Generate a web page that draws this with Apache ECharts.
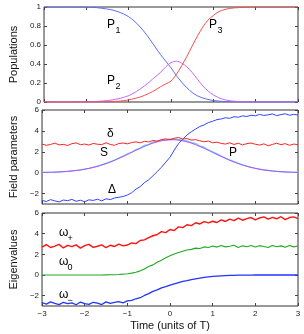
<!DOCTYPE html>
<html><head><meta charset="utf-8">
<script src="https://cdn.jsdelivr.net/npm/echarts@6/dist/echarts.min.js"></script>
<style>html,body{margin:0;padding:0;background:#fff}#c{width:304px;height:334px}</style>
</head><body><div id="c"></div>
<script>
// ---- data ----
const tCoarse = [-3,-2.75,-2.5,-2.25,-2,-1.75,-1.5,-1.375,-1.25,-1.125,-1,-0.875,-0.75,-0.625,-0.5,-0.375,-0.25,-0.125,0,0.125,0.25,0.375,0.5,0.625,0.75,0.875,1,1.125,1.25,1.375,1.5,1.75,2,2.25,2.5,2.75,3];
const P1 = [1,1,1,1,0.998,0.993,0.978,0.967,0.95,0.928,0.897,0.855,0.80,0.735,0.66,0.58,0.50,0.43,0.36,0.28,0.21,0.15,0.10,0.065,0.042,0.027,0.016,0.01,0.005,0.003,0.002,0.001,0,0,0,0,0];
const P2 = [0,0,0,0,0.002,0.006,0.015,0.023,0.034,0.048,0.067,0.095,0.13,0.17,0.215,0.265,0.31,0.37,0.415,0.43,0.41,0.37,0.31,0.24,0.17,0.115,0.075,0.045,0.026,0.014,0.008,0.002,0,0,0,0,0];
const P3 = [0,0,0,0,0,0.001,0.003,0.005,0.008,0.014,0.023,0.035,0.05,0.07,0.095,0.125,0.16,0.19,0.22,0.29,0.38,0.48,0.59,0.695,0.788,0.863,0.91,0.95,0.971,0.984,0.991,0.997,1,1,1,1,1];

const tFine = [-3,-2.9,-2.8,-2.7,-2.6,-2.5,-2.4,-2.3,-2.2,-2.1,-2,-1.9,-1.8,-1.7,-1.6,-1.5,-1.4,-1.3,-1.2,-1.1,-1,-0.9,-0.8,-0.7,-0.6,-0.5,-0.4,-0.3,-0.2,-0.1,0,0.1,0.2,0.3,0.4,0.5,0.6,0.7,0.8,0.9,1,1.1,1.2,1.3,1.4,1.5,1.6,1.7,1.8,1.9,2,2.1,2.2,2.3,2.4,2.5,2.6,2.7,2.8,2.9,3];
const delta = [2.74,2.62,2.70,2.83,2.66,2.71,2.60,2.78,2.85,2.68, 2.74,2.64,2.80,2.72,2.69,2.86,2.70,2.62,2.79,2.84, 2.76,2.88,2.95,2.86,3.00,2.94,3.08,3.02,3.16,3.24, 3.15,3.30,3.36,3.22,3.26,3.12,3.16,3.05,2.96,3.02, 2.86,2.92,2.80,2.74,2.86,2.70,2.82,2.66,2.78,2.84, 2.72,2.64,2.76,2.58,2.70,2.82,2.68,2.78,2.62,2.74,2.68];
const Delta = [-2.66,-2.76,-2.58,-2.70,-2.80,-2.62,-2.68,-2.56,-2.74,-2.64, -2.78,-2.60,-2.66,-2.54,-2.70,-2.50,-2.58,-2.42,-2.36,-2.28, -2.14,-1.92,-1.58,-1.34,-0.96,-0.68,-0.30,0.10,0.52,1.00, 1.48,2.16,2.78,3.20,3.62,3.92,4.18,4.42,4.58,4.80, 4.92,5.08,5.14,5.26,5.20,5.36,5.30,5.44,5.38,5.50, 5.44,5.58,5.48,5.54,5.62,5.46,5.56,5.64,5.50,5.58,5.52];
const Sfield = [0.02,0.03,0.04,0.05,0.07,0.095,0.125,0.16,0.21,0.26,0.33,0.41,0.50,0.61,0.73,0.87,1.02,1.18,1.36,1.55,1.74,1.94,2.14,2.33,2.51,2.68,2.83,2.95,3.05,3.11,3.15,3.15,3.11,3.05,2.95,2.83,2.68,2.51,2.33,2.14,1.94,1.74,1.55,1.36,1.18,1.02,0.87,0.73,0.61,0.50,0.41,0.33,0.26,0.21,0.16,0.125,0.095,0.07,0.05,0.04,0.03];
const Pfield = [0.02,0.03,0.04,0.05,0.07,0.10,0.12,0.17,0.21,0.27, 0.34,0.42,0.52,0.62,0.76,0.89,1.05,1.20,1.40,1.58, 1.81,1.96,2.22,2.36,2.62,2.70,2.94,3.00,3.16,3.12, 3.24,3.18,3.20,3.08,3.05,2.88,2.80,2.54,2.44,2.18, 2.00,1.80,1.60,1.41,1.23,1.06,0.90,0.76,0.63,0.52, 0.42,0.34,0.27,0.22,0.17,0.13,0.10,0.07,0.05,0.04,0.03];
const wPlus = [2.70,2.94,2.66,2.80,2.96,2.62,2.86,2.74,2.92,2.60, 2.84,2.96,2.68,2.78,2.92,2.64,2.88,2.76,2.98,2.82, 2.90,3.10,3.04,3.34,3.40,3.62,3.80,3.92,4.20,4.10, 4.40,4.30,4.66,4.58,4.86,4.78,5.06,4.94,5.16,5.04, 5.20,5.08,5.34,5.18,5.40,5.26,5.50,5.30,5.46,5.56, 5.34,5.52,5.62,5.40,5.58,5.44,5.64,5.36,5.56,5.62,5.46];
const wZero = [0,0,0,0,0,0,0,0,0,0, 0,0,0,0,0,0.01,0.02,0.03,0.05,0.08, 0.12,0.18,0.27,0.40,0.58,0.82,0.98,1.24,1.42,1.66, 1.86,2.04,2.18,2.30,2.42,2.48,2.60,2.56,2.72,2.66, 2.80,2.70,2.86,2.72,2.78,2.88,2.66,2.82,2.74,2.86, 2.70,2.84,2.76,2.66,2.86,2.74,2.82,2.68,2.86,2.72,2.80];
const wMinus = [-2.66,-2.82,-2.60,-2.74,-2.86,-2.64,-2.78,-2.70,-2.88,-2.62, -2.76,-2.84,-2.64,-2.72,-2.86,-2.60,-2.74,-2.66,-2.58,-2.70, -2.50,-2.46,-2.30,-2.20,-1.98,-1.80,-1.58,-1.44,-1.24,-1.12, -0.98,-0.86,-0.74,-0.62,-0.54,-0.44,-0.37,-0.30,-0.23,-0.18, -0.14,-0.11,-0.08,-0.06,-0.04,-0.03,-0.02,-0.015,-0.01,-0.01, 0,0,0,0,0,0,0,0,0,0,0];

const xTicks = [-3,-2,-1,0,1,2,3];
const yTicksTop = [0,0.2,0.4,0.6,0.8,1];
const yTicksField = [-2,0,2,4,6];
const yTicksEig = [-2,0,2,4,6];

// ---- chart ----
const pair = (ts, vs) => ts.map((t, i) => [t, vs[i]]);
const minus = v => String(v).replace('-', '\u2212');
const FONT = 'Liberation Sans, Arial, sans-serif';
const grids = [
  {left: 33, right: 6, top: 7, height: 95},
  {left: 33, right: 6, top: 110, height: 94},
  {left: 33, right: 6, top: 213, height: 93}
].map(g => Object.assign(g, {show: true, borderColor: '#333', borderWidth: 1, backgroundColor: 'transparent'}));

const xAxes = [], yAxes = [];
const yRanges = [[0, 1, yTicksTop, 'Populations'], [-3, 6, yTicksField, 'Field parameters'], [-3, 6, yTicksEig, 'Eigenvalues']];
for (let g = 0; g < 3; g++) {
  ['bottom', 'top'].forEach(pos => {
    const lab = (g === 2 && pos === 'bottom');
    xAxes.push({
      gridIndex: g, type: 'value', min: -3, max: 3, position: pos,
      axisLine: {show: false, onZero: false}, splitLine: {show: false},
      axisTick: {inside: true, length: 3, customValues: xTicks, lineStyle: {color: '#444'}},
      axisLabel: {show: lab, customValues: xTicks, fontSize: 8, color: '#222', fontFamily: FONT, margin: 4, formatter: minus},
      name: lab ? 'Time (units of T)' : '', nameLocation: 'middle', nameGap: 14,
      nameTextStyle: {fontSize: 11, color: '#111', fontFamily: FONT}
    });
  });
  const [mn, mx, tk, nm] = yRanges[g];
  ['left', 'right'].forEach(pos => {
    const lab = pos === 'left';
    yAxes.push({
      gridIndex: g, type: 'value', min: mn, max: mx, position: pos,
      axisLine: {show: false, onZero: false}, splitLine: {show: false},
      axisTick: {inside: true, length: 3, customValues: tk, lineStyle: {color: '#444'}},
      axisLabel: {show: lab, customValues: tk, fontSize: 8, color: '#222', fontFamily: FONT, margin: 3, formatter: minus},
      name: lab ? nm : '', nameLocation: 'middle', nameGap: 19, nameRotate: 90,
      nameTextStyle: {fontSize: 11, color: '#111', fontFamily: FONT}
    });
  });
}

function line(g, ts, vs, color, smooth, w) {
  return {
    type: 'line', xAxisIndex: g * 2, yAxisIndex: g * 2, data: pair(ts, vs),
    showSymbol: false, smooth: smooth, animation: false, silent: true,
    lineStyle: {color: color, width: w || 1}
  };
}

const series = [
  line(0, tCoarse, P1, '#5a6aff', 0.3),
  line(0, tCoarse, P2, '#c466ff', 0.3),
  line(0, tCoarse, P3, '#ff4a4a', 0.3),
  line(1, tFine, Pfield, '#55dddd', false, 1.2),
  line(1, tFine, Sfield, '#bb44ff', 0.3),
  line(1, tFine, delta, '#ff2222', false),
  line(1, tFine, Delta, '#3344ff', false),
  line(2, tFine, wPlus, '#ff1111', false, 1.4),
  line(2, tFine, wZero, '#22aa22', false, 1.1),
  line(2, tFine, wMinus, '#2233ff', false, 1.3)
];

function lbl(x, y, main, sub, subDx, subDy) {
  const els = [{type: 'text', x: x, y: y, style: {text: main, font: '12px ' + FONT, fill: '#000', verticalAlign: 'middle'}}];
  if (sub) els.push({type: 'text', x: x + subDx, y: y + subDy, style: {text: sub, font: '9px ' + FONT, fill: '#000', verticalAlign: 'middle'}});
  return els;
}
const graphic = [].concat(
  lbl(107, 25, 'P', '1', 8.5, 6),
  lbl(107, 81, 'P', '2', 8.5, 6),
  lbl(209, 25, 'P', '3', 8.5, 6),
  lbl(107, 134, '\u03b4'),
  lbl(100, 153, 'S'),
  lbl(229, 153, 'P'),
  lbl(108, 190, '\u0394'),
  lbl(59, 233, '\u03c9', '+', 8.5, 6),
  lbl(59, 262, '\u03c9', '0', 8.5, 6),
  lbl(59, 295, '\u03c9', '\u2212', 8.5, 6)
);

const chart = echarts.init(document.getElementById('c'), null, {renderer: 'canvas'});
chart.setOption({
  animation: false,
  grid: grids, xAxis: xAxes, yAxis: yAxes, series: series, graphic: graphic
});
</script></body></html>
